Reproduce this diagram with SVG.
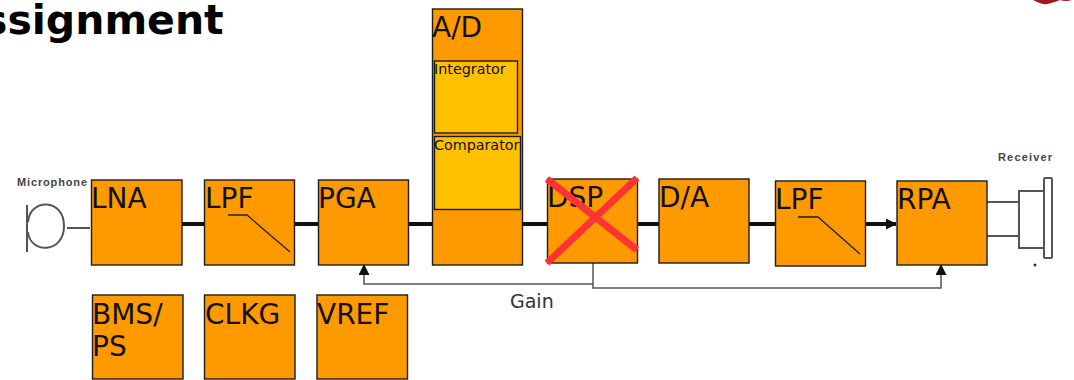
<svg xmlns="http://www.w3.org/2000/svg" width="1074" height="380" viewBox="0 0 1074 380">
<defs>
<marker id="a" markerUnits="userSpaceOnUse" markerWidth="11" markerHeight="11" refX="10" refY="5.500" orient="auto"><path d="M0 0L11 5.500L0 11Z" fill="#111"/></marker>
</defs>
<style>
.b{fill:#ff9900;stroke:#1c1c1c;stroke-width:1.4}
.i{fill:#ffc000;stroke:#1c1c1c;stroke-width:1.4}
text{font-family:"DejaVu Sans",sans-serif;fill:#111}
.l{font-size:28px}
.s{font-size:14.300px}
.main{stroke:#111;stroke-width:4;fill:none}
.fb{stroke:#555;stroke-width:1.5;fill:none}
.sym{stroke:#555;stroke-width:2;fill:none}
.cross{stroke:#ff3333;stroke-width:7;fill:none}
.curve{stroke:#222;stroke-width:1.300;fill:none}
.cap{font-family:"Liberation Sans",sans-serif;font-size:11px;font-weight:bold;fill:#444}
</style>
<text x="-17" y="34" font-size="41" font-weight="bold" style="fill:#000">ssignment</text>
<path d="M1033 0Q1042 5 1047 4T1060 0Q1066 2 1072 0Z" fill="#a01818"/>
<g id="connectors">
<path class="main" d="M182 224H204M295 224H318M409 224H432M523 224H547M638 224H659M749 224H775"/>
<path class="main" d="M866 224H896" marker-end="url(#a)"/>
<path class="fb" d="M593 263V284H364V265" marker-end="url(#a)"/>
<path class="fb" d="M593 284V288H941V265" marker-end="url(#a)"/>
<path class="sym" d="M67 228H90M987 202H1019M987 236H1019"/>
</g>
<g id="microphone">
<text class="cap" x="17" y="186" textLength="70">Microphone</text>
<path class="sym" d="M27 205V252"/>
<path class="sym" d="M28 222C30 198 64 198 64 226C64 254 30 254 28 232"/>
</g>
<g id="receiver">
<text class="cap" x="998" y="161" textLength="54">Receiver</text>
<path class="sym" d="M1044 191H1019V248H1044"/>
<rect class="sym" x="1044" y="178" width="8" height="80" rx="1"/>
<circle cx="1035" cy="265" r="1.500" fill="#333"/>
</g>
<g id="lna"><rect class="b" x="91.500" y="180" width="90.500" height="85"/><text class="l" x="91" y="208">LNA</text></g>
<g id="lpf1"><rect class="b" x="204.500" y="180" width="90" height="85"/><text class="l" x="205" y="208">LPF</text><path class="curve" d="M228 215H247L290 252"/></g>
<g id="pga"><rect class="b" x="318.500" y="180" width="90" height="85"/><text class="l" x="318" y="208">PGA</text></g>
<g id="ad"><rect class="b" x="432.500" y="9" width="90" height="256"/><text class="l" x="432" y="37">A/D</text>
<g id="integrator"><rect class="i" x="434.500" y="61" width="83" height="72"/><text class="s" x="434" y="74">Integrator</text></g>
<g id="comparator"><rect class="i" x="434.500" y="136.500" width="86" height="73"/><text class="s" x="434" y="150">Comparator</text></g></g>
<g id="dsp"><rect class="b" x="547.500" y="179" width="90" height="84"/><text class="l" x="547" y="207">DSP</text><path class="cross" d="M547 179L637 250M637 178L547 263"/></g>
<g id="da"><rect class="b" x="659" y="179" width="90" height="84"/><text class="l" x="659" y="207">D/A</text></g>
<g id="lpf2"><rect class="b" x="775.500" y="181" width="90" height="85"/><text class="l" x="775" y="209">LPF</text><path class="curve" d="M798 217H818L860 254"/></g>
<g id="rpa"><rect class="b" x="897" y="181" width="90" height="84"/><text class="l" x="897" y="209">RPA</text></g>
<g id="bms"><rect class="b" x="92.500" y="295" width="90.500" height="84"/><text class="l" x="92" y="324">BMS/</text><text class="l" x="92" y="356">PS</text></g>
<g id="clkg"><rect class="b" x="204.500" y="295" width="90.500" height="84"/><text class="l" x="205" y="324">CLKG</text></g>
<g id="vref"><rect class="b" x="317" y="295" width="90.500" height="84"/><text class="l" x="317" y="324">VREF</text></g>
<text id="gain" x="510" y="308" font-size="19" style="fill:#333">Gain</text>
</svg>
